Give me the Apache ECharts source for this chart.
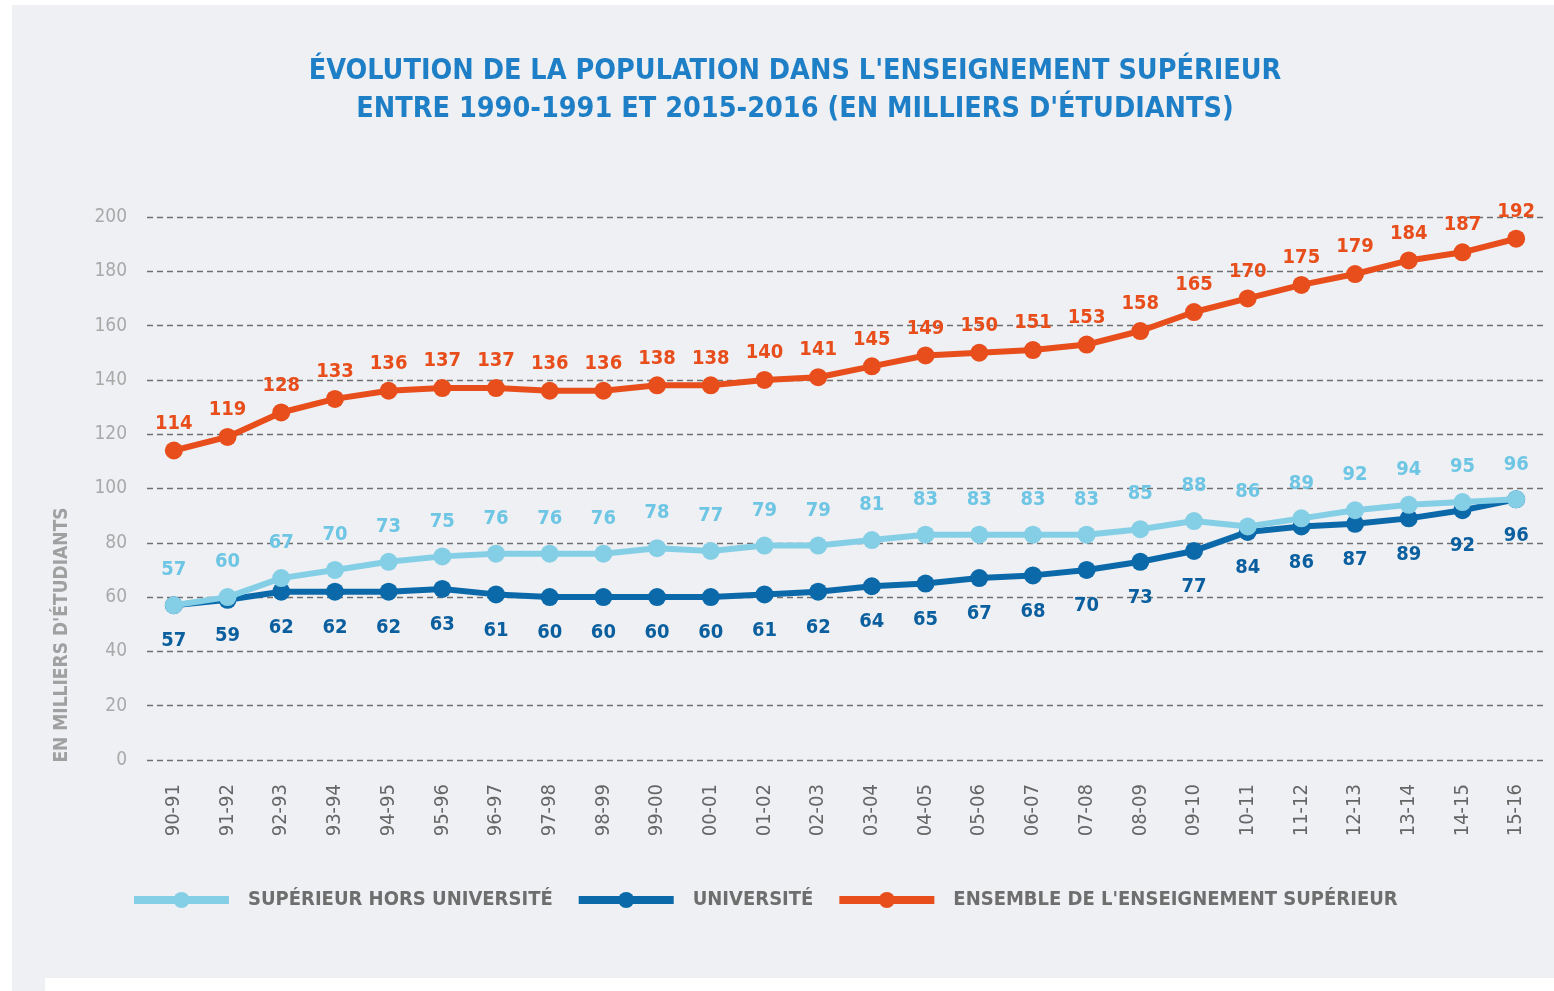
<!DOCTYPE html>
<html>
<head>
<meta charset="utf-8">
<script src="https://cdn.jsdelivr.net/npm/echarts@6/dist/echarts.min.js"></script>
<style>
html,body{margin:0;padding:0;background:#ffffff;}
#bg{position:absolute;left:12px;top:5px;width:1542px;height:986px;background:#eef0f3;}
#bg2{position:absolute;left:45px;top:978px;width:1509px;height:13px;background:#ffffff;}
#chart{position:absolute;left:0;top:0;width:1554px;height:991px;}
</style>
</head>
<body>
<div id="bg"></div>
<div id="bg2"></div>
<div id="chart"></div>
<script>
const categories = ['90-91','91-92','92-93','93-94','94-95','95-96','96-97','97-98','98-99','99-00','00-01','01-02','02-03','03-04','04-05','05-06','06-07','07-08','08-09','09-10','10-11','11-12','12-13','13-14','14-15','15-16'];
const horsUniversite = [57,60,67,70,73,75,76,76,76,78,77,79,79,81,83,83,83,83,85,88,86,89,92,94,95,96];
const universite = [57,59,62,62,62,63,61,60,60,60,60,61,62,64,65,67,68,70,73,77,84,86,87,89,92,96];
const ensemble = [114,119,128,133,136,137,137,136,136,138,138,140,141,145,149,150,151,153,158,165,170,175,179,184,187,192];
const seriesNames = ['SUPÉRIEUR HORS UNIVERSITÉ','UNIVERSITÉ',"ENSEMBLE DE L'ENSEIGNEMENT SUPÉRIEUR"];
const titleLines = ["ÉVOLUTION DE LA POPULATION DANS L'ENSEIGNEMENT SUPÉRIEUR","ENTRE 1990-1991 ET 2015-2016 (EN MILLIERS D'ÉTUDIANTS)"];
const yAxisName = "EN MILLIERS D'ÉTUDIANTS";

const FONT = "'Liberation Sans Narrow','DejaVu Sans Condensed','Roboto',sans-serif";
const C_LIGHT = '#85cfe6', C_DARK = '#0b69aa', C_ORANGE = '#e84e1b';

const chart = echarts.init(document.getElementById('chart'), null, {renderer:'canvas'});
function mkSeries(name, data, color, labelColor, pos, dist, z){
  return {
    name, type:'line', data, z,
    symbol:'circle', symbolSize:18,
    lineStyle:{color, width:6},
    itemStyle:{color},
    label:{show:true, position:pos, distance:dist, color:labelColor,
      fontFamily:FONT, fontWeight:'bold', fontSize:20},
    emphasis:{disabled:true}, animation:false
  };
}
chart.setOption({
  backgroundColor:'transparent',
  animation:false,
  title:{
    text: titleLines.join('\n'),
    left:790, top:48, textAlign:'center',
    textStyle:{color:'#1f7fc6', fontFamily:FONT, fontWeight:'bold', fontSize:28.5, lineHeight:38}
  },
  grid:{left:147, right:11, top:217, bottom:231, containLabel:false},
  legend:{
    left:130, top:890, padding:0, itemWidth:95, itemHeight:20, itemGap:22,
    lineStyle:{width:8},
    textStyle:{color:'#6e6e6e', fontFamily:FONT, fontWeight:'bold', fontSize:20, padding:[0,0,0,14]},
    data: seriesNames
  },
  xAxis:{
    type:'category', data:categories, boundaryGap:true,
    axisLine:{show:false}, axisTick:{show:false},
    axisLabel:{rotate:90, color:'#666666', fontFamily:FONT, fontSize:20, margin:24, interval:0}
  },
  yAxis:{
    type:'value', min:0, max:200, interval:20,
    axisLine:{show:false}, axisTick:{show:false},
    axisLabel:{color:'#a9a9a9', fontFamily:FONT, fontSize:19, margin:20},
    splitLine:{show:true, lineStyle:{color:'#707070', type:[6,4], width:1.3}}
  },
  graphic:[{
    type:'text', x:62, y:635, rotation:Math.PI/2,
    style:{text:yAxisName, fill:'#a0a0a0', font:"bold 19px "+FONT, textAlign:'center', textVerticalAlign:'middle'}
  }],
  series:[
    mkSeries(seriesNames[1], universite, C_DARK, '#0b5f9e', 'bottom', 17, 2),
    mkSeries(seriesNames[0], horsUniversite, C_LIGHT, '#6ec6e4', 'top', 16, 3),
    mkSeries(seriesNames[2], ensemble, C_ORANGE, '#e84e1b', 'top', 8, 4)
  ]
});
</script>
</body>
</html>
